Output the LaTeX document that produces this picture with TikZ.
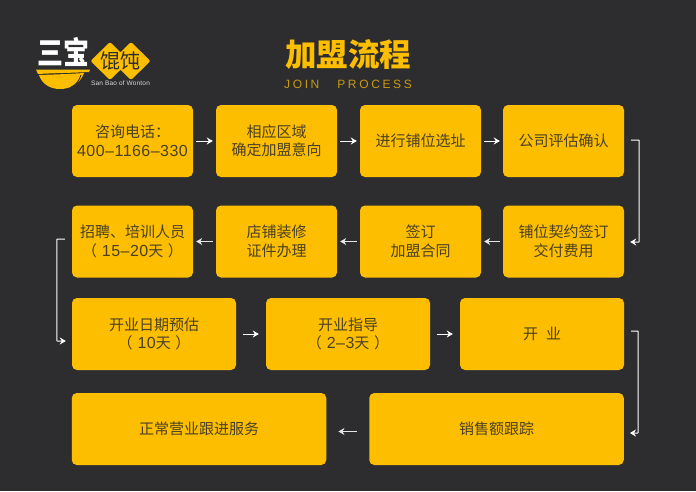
\documentclass[tikz,border=0pt]{standalone}
\usepackage{fontspec}
\setmainfont{Noto Sans CJK SC}
\newfontfamily\latinfont[LetterSpace=3]{Liberation Sans}
\newfontfamily\spacedfont[LetterSpace=22]{Liberation Sans}
\newcommand{\dayspan}[1]{（{\latinfont\fontsize{16}{18.5}\selectfont\ #1}天{\latinfont\ }）}
\definecolor{bgdark}{HTML}{2D2D2F}
\definecolor{boxyellow}{HTML}{FDBE00}
\definecolor{boxtext}{HTML}{4A4026}
\definecolor{subyellow}{HTML}{C99A12}
\usetikzlibrary{arrows.meta}
\tikzset{
    flowbox/.style={fill=boxyellow, rounded corners=5pt, inner sep=0pt, align=center, text=boxtext,
        minimum height=72pt, font=\fontsize{15}{18.5}\selectfont},
    smallbox/.style={flowbox, minimum width=121pt},
    midbox/.style={flowbox, minimum width=164pt},
    widebox/.style={flowbox, minimum width=254.5pt},
    flow/.style={draw=white, line width=0.9pt, -{Stealth[length=6pt,width=7pt]}},
    backflow/.style={flow, draw=white!90!black, line width=1.2pt},
    elbow/.style={flow, line width=1pt, rounded corners=0.5pt}
}
\begin{document}
\begin{tikzpicture}[x=1pt, y=-1pt]
    \useasboundingbox (0,0) rectangle (696,491);
    \fill[bgdark] (0,0) rectangle (696,491);

    \node[font=\bfseries\fontsize{31.5}{31.5}\selectfont, text=boxyellow, inner sep=0pt] (title) at (348,54.5) {加盟流程};
    \node[font=\spacedfont\fontsize{12}{12}\selectfont, text=subyellow, inner sep=0pt] (subtitle) at (348,84) {JOIN\ \ \ PROCESS};

    \fill[boxyellow, rounded corners=2pt] (110,42) -- (129.5,61) -- (110,80) -- (90.5,61) -- cycle;
    \fill[boxyellow, rounded corners=2pt] (131,42) -- (150.5,61) -- (131,80) -- (111.5,61) -- cycle;
    \node[font=\fontsize{20}{20}\selectfont, text=bgdark, inner sep=0pt] (wonton) at (120.5,61) {馄饨};
    \node[font=\bfseries\fontsize{26}{26}\selectfont, text=white, inner sep=0pt, yscale=1.2, transform shape] (sanbao) at (63,52) {三宝};
    \node[font=\latinfont\fontsize{6.5}{6.5}\selectfont, text=white!85!black, inner sep=0pt] (brand) at (120.5,83.5) {San Bao of Wonton};
    \fill[boxyellow] (36,69.5) -- (90,69.5) -- (89,72) .. controls (70,73) and (55,73) .. (38,74) -- cycle;
    \fill[boxyellow] (39,75) .. controls (55,74.5) and (70,74) .. (84,73) .. controls (80,84) and (70,89) .. (60,89) .. controls (50,89) and (42,84) .. (39,75) -- cycle;
    \draw[bgdark, line width=0.9pt] (81,75) .. controls (79,81) and (76,85) .. (71,87);

    \node[smallbox] (consult) at (132.5,141) {咨询电话：\\{\latinfont\fontsize{16}{18.5}\selectfont 400–1166–330}};
    \node[smallbox] (region) at (276.5,141) {相应区域\\确定加盟意向};
    \node[smallbox] (site) at (420.5,141) {进行铺位选址};
    \node[smallbox] (assess) at (563.5,141) {公司评估确认};

    \node[smallbox] (recruit) at (132.5,241.5) {招聘、培训人员\\\dayspan{15–20}};
    \node[smallbox] (decor) at (276.5,241.5) {店铺装修\\证件办理};
    \node[smallbox] (contract) at (420.5,241.5) {签订\\加盟合同};
    \node[smallbox] (lease) at (563.5,241.5) {铺位契约签订\\交付费用};

    \node[midbox] (date) at (154,334) {开业日期预估\\\dayspan{10}};
    \node[midbox] (guide) at (348,334) {开业指导\\\dayspan{2–3}};
    \node[midbox] (open) at (542,334) {开\hspace{8pt}业};

    \node[widebox] (service) at (199,429) {正常营业跟进服务};
    \node[widebox] (sales) at (496.5,429) {销售额跟踪};

    \draw[flow, shorten <=3pt, shorten >=3pt] (consult) -- (region);
    \draw[flow, shorten <=3pt, shorten >=3pt] (region) -- (site);
    \draw[flow, shorten <=3pt, shorten >=3pt] (site) -- (assess);
    \draw[backflow, shorten <=3pt, shorten >=3pt] (lease) -- (contract);
    \draw[backflow, shorten <=3pt, shorten >=3pt] (contract) -- (decor);
    \draw[backflow, shorten <=3pt, shorten >=3pt] (decor) -- (recruit);
    \draw[flow, shorten <=7pt, shorten >=7pt] (date) -- (guide);
    \draw[flow, shorten <=7pt, shorten >=7pt] (guide) -- (open);
    \draw[backflow, shorten <=12pt, shorten >=12pt] ([yshift=-2.5pt]sales.west) -- ([yshift=-2.5pt]service.east);

    \draw[elbow] ([shift={(7,-1)}]assess.east) -- ++(8,0) |- ([shift={(6,0.5)}]lease.east);
    \draw[elbow] ([shift={(-7,-2.5)}]recruit.west) -- ++(-8,0) |- ([shift={(-6,7)}]date.west);
    \draw[elbow] ([shift={(7,-3)}]open.east) -- ++(7,0) |- ([shift={(6,4)}]sales.east);
\end{tikzpicture}
\end{document}
